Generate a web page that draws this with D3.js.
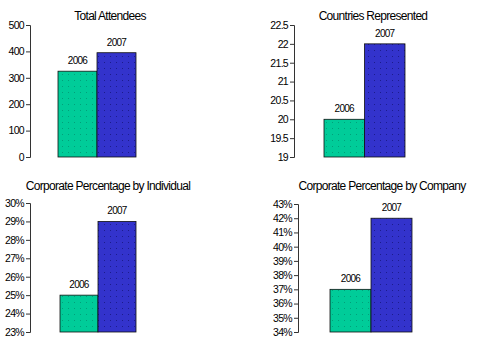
<!DOCTYPE html>
<html>
<head>
<meta charset="utf-8">
<script src="https://cdn.jsdelivr.net/npm/d3@7"></script>
<style>
  body { margin: 0; background: #fff; }
  text { font-family: "Liberation Sans", Arial, sans-serif; fill: #000; }
</style>
</head>
<body>
<script>
const width = 489, height = 351;

const years = ["2006", "2007"];
const attendees = [325, 395];
const countries = [20, 22];
const byIndividual = [25, 29];
const byCompany = [37, 42];

const colors = ["#00cc99", "#3333cc"];

const svg = d3.select("body").append("svg")
    .attr("width", width)
    .attr("height", height);

// dotted fills like the old office charts
const defs = svg.append("defs");
colors.forEach((c, i) => {
    const p = defs.append("pattern")
        .attr("id", "dots" + i)
        .attr("patternUnits", "userSpaceOnUse")
        .attr("width", 6)
        .attr("height", 6);
    p.append("rect").attr("width", 6).attr("height", 6).attr("fill", c);
    p.append("rect").attr("x", 2).attr("y", 2).attr("width", 1).attr("height", 1)
        .attr("fill", i === 0 ? "#00a07a" : "#1c1c8c");
});

const panels = [
    { title: "Total Attendees", values: attendees, domain: [0, 500], step: 100, fmt: d3.format("d"),
      axisX: 30, top: 25, bottom: 157, barL: 58, barR: 136, titleX: 110, titleY: 20 },
    { title: "Countries Represented", values: countries, domain: [19, 22.5], step: 0.5, fmt: d3.format("~g"),
      axisX: 294, top: 25, bottom: 157, barL: 324, barR: 405, titleX: 373, titleY: 20 },
    { title: "Corporate Percentage by Individual", values: byIndividual, domain: [23, 30], step: 1, fmt: d => d + "%",
      axisX: 30, top: 203, bottom: 332, barL: 60, barR: 136, titleX: 108, titleY: 190 },
    { title: "Corporate Percentage by Company", values: byCompany, domain: [34, 43], step: 1, fmt: d => d + "%",
      axisX: 298, top: 204, bottom: 332, barL: 330, barR: 412, titleX: 382, titleY: 190 }
];

panels.forEach(drawPanel);

function drawPanel(cfg) {
    const g = svg.append("g");

    const y = d3.scaleLinear().domain(cfg.domain).range([cfg.bottom, cfg.top]);
    const x = d3.scaleBand().domain(years).range([cfg.barL, cfg.barR]).padding(0);

    const ticks = d3.range(cfg.domain[0], cfg.domain[1] + cfg.step / 2, cfg.step);

    const axis = g.append("g")
        .attr("transform", `translate(${cfg.axisX},0)`)
        .call(d3.axisLeft(y).tickValues(ticks).tickFormat(cfg.fmt).tickSize(4).tickPadding(2));
    axis.select(".domain").attr("stroke", "#333");
    axis.selectAll(".tick line").attr("stroke", "#333");
    axis.selectAll(".tick text")
        .attr("font-size", 10.5)
        .attr("letter-spacing", "-0.7px")
        .style("font-family", "'Liberation Sans', Arial, sans-serif");

    g.selectAll("rect.bar")
        .data(cfg.values)
        .join("rect")
        .attr("class", "bar")
        .attr("x", (d, i) => x(years[i]))
        .attr("y", d => y(d))
        .attr("width", x.bandwidth())
        .attr("height", d => cfg.bottom - y(d))
        .attr("fill", (d, i) => `url(#dots${i})`)
        .attr("stroke", "#111")
        .attr("stroke-width", 0.8);

    g.selectAll("text.lbl")
        .data(cfg.values)
        .join("text")
        .attr("class", "lbl")
        .attr("x", (d, i) => x(years[i]) + x.bandwidth() / 2)
        .attr("y", d => y(d) - 7)
        .attr("text-anchor", "middle")
        .attr("font-size", 10)
        .attr("letter-spacing", "-0.7px")
        .text((d, i) => years[i]);

    g.append("text")
        .attr("x", cfg.titleX)
        .attr("y", cfg.titleY)
        .attr("text-anchor", "middle")
        .attr("font-size", 12)
        .attr("letter-spacing", "-0.7px")
        .text(cfg.title);
}
</script>
</body>
</html>
